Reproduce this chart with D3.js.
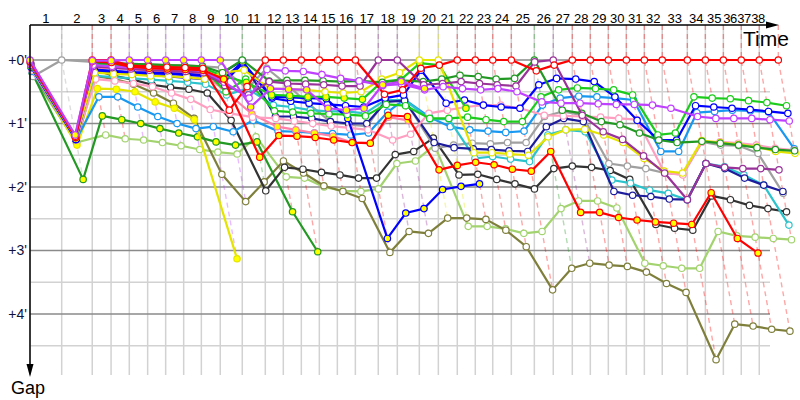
<!DOCTYPE html>
<html><head><meta charset="utf-8">
<script src="https://cdn.jsdelivr.net/npm/d3@7"></script>
<style>body{margin:0;background:#fff}svg{display:block}</style>
</head><body>
<svg id="chart" width="800" height="400"></svg>
<script>
// ---- DATA ----
const lapLabels = d3.range(1, 39);
// leader's elapsed time (minutes) at end of each lap, lap 0..38
const lapTimes = [0,2.78,5.46,7.11,8.71,10.32,11.90,13.48,15.03,16.69,18.62,20.64,22.22,23.80,25.38,26.96,28.54,30.55,32.22,34.15,35.82,37.48,39.06,40.59,42.22,44.24,45.90,47.57,49.15,50.73,52.31,53.89,55.46,57.66,59.24,60.82,62.39,63.97,65.64];
const gapMajorTicks = [0,1,2,3,4];
const gapMinorTicks = [0.5,1.5,2.5,3.5,4.5];
const tickLabels = ["+0'","+1'","+2'","+3'","+4'"];

// gaps to leader (minutes) per lap, lap 0..
const gapRedW = [0.02,1.2,0,0,0.09,0.1,0.11,0.12,0.13,0.79,0.42,0,0,0,0,0,0,0.54,0.47,0.13,0.08,0,0,0,0,0.17,0.08,0,0,0,0,0,0,0,0,0,0,0,0];
const gapRedY = [0.03,1.22,0.02,0.04,0.11,0.13,0.14,0.15,0.16,0.3,1.53,1.19,1.2,1.22,1.26,1.3,1.31,0.87,0.89,1.73,1.66,1.61,1.65,1.72,1.75,1.44,2.4,2.4,2.48,2.52,2.55,2.57,2.59,2.09,2.81,3.04];
const gapVioletY = [0,1.18,0.01,0.01,0,0,0,0,0,0,0.74,0.45,0.46,0.47,0.76,0.79,0.76,0.39,0.34,0.45];
const gapVioletW = [0.05,1.22,0.08,0.1,0.12,0.13,0.14,0.15,0.17,0.35,0.6,0.15,0.17,0.18,0.23,0.29,0.33,0.4,0.38,0.47,0.42,0.45,0.47,0.45,0.5,0.66,0.68,0.68,0.69,0.7,0.7,0.71,0.76,0.89,0.92,0.92,0.92,0.94,0.96];
const gapPurple = [0.08,1.2,0.1,0.12,0.14,0.16,0.17,0.18,0.2,0.4,0.55,0.34,0.37,0.38,0.39,0.41,0.41,0,0,0.39,0.37,0.34,0.37,0.39,0.41,0.03,0,0.87,1.13,1.25,1.51,1.78,2.2,1.63,1.69,1.71,1.71,1.73];
const gapGreenW = [0.06,1.22,0.04,0.05,0.06,0.07,0.08,0.09,0.1,0.2,0,0.33,0.32,0.32,0.33,0.34,0.33,0.35,0.32,0.34,0.3,0.24,0.26,0.3,0.29,0,0.79,0.84,0.97,1.02,1.15,1.26,1.3,1.28,1.31,1.34,1.38,1.41,1.43];
const gapGreenY = [0.2,1.88,0.88,0.94,1.0,1.08,1.15,1.21,1.29,1.34,1.29,2.39,3.02];
const gapLimeW = [0.1,1.22,0.06,0.07,0.09,0.1,0.12,0.13,0.14,0.5,0.3,0.8,0.82,0.84,0.85,0.86,0.88,0.7,0.72,0.92,0.92,0.9,0.94,0.97,0.97,0.58,0.47,0.44,0.45,0.47,0.55,1.18,1.15,0.58,0.6,0.61,0.64,0.67,0.72];
const gapLimeY = [0.09,1.21,0.05,0.06,0.08,0.09,0.11,0.12,0.13,0.25,0.35,0.55,0.56,0.58,0.58,0.6,0.62,0.34,0.31,0.05,0.08,0.76];
const gapBlueY = [0.1,1.25,0.15,0.17,0.19,0.2,0.21,0.22,0.24,0.3,0.03,0.58,0.59,0.6,0.61,0.92,2.81,2.41,2.34,2.04,1.99,1.95];
const gapBlueW = [0.12,1.25,0.16,0.18,0.2,0.21,0.22,0.24,0.25,0.35,0.05,0.6,0.65,0.68,0.7,0.72,0.74,0.6,0.55,0.16,0.68,0.63,0.71,0.74,0.76,0.39,0.29,0.3,0.34,0.58,0.95,1.26,1.26,0.72,0.74,0.76,0.78,0.81,0.84];
const gapNavy = [0.12,1.25,0.18,0.2,0.22,0.24,0.26,0.28,0.3,0.2,0.01,0.89,0.89,0.92,0.97,1.0,1.0,0.66,0.64,1.3,1.38,1.4,1.41,1.43,1.44,1.05,0.92,0.97,2.07,2.13,2.15,2.19,2.2,1.63,1.71,1.86,1.97,2.07];
const gapCyan = [0.15,1.25,0.25,0.27,0.29,0.31,0.33,0.35,0.38,0.55,0.45,0.71,0.74,0.79,0.81,0.81,0.84,0.63,0.63,0.93,0.93,1.55,1.52,1.56,1.6,1.18,1.1,1.13,1.89,1.94,2.05,2.1,2.2,1.63,1.68,1.81,1.97,2.6];
const gapLightBlue = [0.18,1.26,0.58,0.58,0.74,0.89,1.0,1.08,1.05,1.13,0.95,1.12,1.13,1.15,1.16,1.18,1.15,0.82,0.62,0.9,1.05,1.1,1.12,1.14,1.12,0.71,0.6,0.57,0.58,0.6,0.63,1.44,1.44,0.83,0.81,0.79,0.8,0.82,1.4];
const gapPinkW = [0.16,1.26,0.3,0.33,0.37,0.42,0.52,0.62,0.78,0.84,0.9,0.92,0.96,1.0,1.04,1.07,1.1,1.26,1.17,0.84,0.79,0.74,0.71,0.71,0.76,0.87,0.88,0.89,0.9,0.92,0.94,1.78,1.81,1.29,1.29,1.31,1.34,1.39,1.42];
const gapPinkY = [0.1,1.22,0.12,0.13,0.15,0.17,0.19,0.2,0.22,0.5,0.85,1.05,1.1,1.15,1.2,1.3,1.31,0.9,0.95];
const gapGray = [0.26,0,0.03,0.05,0.06,0.07,0.08,0.08,0.1,0.12,0.45,0.13,0.4,0.7,0.97,1.02,1.04,0.63,0.63,1.39,1.34,1.31,1.32,1.3,1.3,0.89,0.81,0.87,1.63,1.67,1.71,1.78,1.8,1.29,1.34,1.35,1.47,2.1];
const gapBlack = [0.05,1.22,0.15,0.25,0.31,0.39,0.43,0.46,0.52,0.95,2.06,1.69,1.72,1.77,1.81,1.86,1.86,1.49,1.44,1.23,1.81,1.8,1.88,1.95,2.03,1.71,1.67,1.69,1.74,1.88,2.59,2.65,2.68,2.14,2.2,2.29,2.34,2.39];
const gapOlive = [0.2,1.3,0.25,0.3,0.38,0.52,0.68,0.92,1.8,2.23,1.92,1.59,1.78,1.98,2.07,2.18,3.03,2.7,2.73,2.49,2.49,2.51,2.68,2.94,3.62,3.28,3.2,3.23,3.25,3.34,3.52,3.66,4.72,4.16,4.19,4.24,4.27];
const gapLightGreen = [0.25,1.3,1.18,1.24,1.26,1.3,1.35,1.41,1.45,1.48,1.21,1.84,1.86,2.0,2.06,2.07,2.03,1.63,1.59,1.34,2.62,2.62,2.66,2.73,2.7,2.34,2.22,2.22,2.33,3.2,3.24,3.28,3.28,2.7,2.77,2.79,2.81,2.83];
const gapYellowY = [0.15,1.34,0.45,0.46,0.5,0.66,0.76,0.94,3.13];
const gapYellowW = [0.08,1.23,0.2,0.22,0.23,0.25,0.26,0.27,0.3,0.2,0.16,0.45,0.46,0.47,0.5,0.52,0.5,0.3,0.2,0,0,1.46,1.46,1.48,1.5,1.21,1.1,1.09,1.18,1.3,1.55,1.75,1.78,1.27,1.3,1.33,1.37,1.44,1.47];

// ---- STYLES (drawn back to front) ----
const FY = "#ffff00", FW = "#ffffff";
const seriesList = [
  {gaps: gapLightGreen, color: "#a3d36f", fill: FW},
  {gaps: gapOlive, color: "#7f7f3c", fill: FW},
  {gaps: gapGreenY, color: "#229922", fill: FY},
  {gaps: gapYellowY, color: "#e4e400", fill: FY},
  {gaps: gapBlack, color: "#333333", fill: FW},
  {gaps: gapGray, color: "#a0a0a0", fill: FW},
  {gaps: gapLightBlue, color: "#1898f0", fill: FW},
  {gaps: gapCyan, color: "#2cc4cc", fill: FW},
  {gaps: gapNavy, color: "#1c1c9c", fill: FW},
  {gaps: gapPinkY, color: "#ff80a8", fill: FY},
  {gaps: gapPinkW, color: "#ff9ec0", fill: FW},
  {gaps: gapBlueW, color: "#0000ff", fill: FW},
  {gaps: gapBlueY, color: "#0000ff", fill: FY},
  {gaps: gapLimeW, color: "#1ccc1c", fill: FW},
  {gaps: gapLimeY, color: "#1ccc1c", fill: FY},
  {gaps: gapYellowW, color: "#e4e400", fill: FW},
  {gaps: gapGreenW, color: "#229922", fill: FW},
  {gaps: gapPurple, color: "#993399", fill: FW},
  {gaps: gapVioletW, color: "#bf40ff", fill: FW},
  {gaps: gapRedY, color: "#ff0000", fill: FY},
  {gaps: gapRedW, color: "#ff0000", fill: FW},
  {gaps: gapVioletY, color: "#bf40ff", fill: FY}
];

// ---- SCALES ----
const x = d3.scaleLinear().domain([0, 65.35]).range([30, 775]);
const y = d3.scaleLinear().domain([0, 1]).range([60, 123.5]);
const yTop = 25, yBottom = 375, gridRight = 770;

const svg = d3.select("#chart");
const font = "'Liberation Sans', Arial, sans-serif";

// grid
const grid = svg.append("g");
grid.selectAll("line.v").data(lapTimes.slice(0, 38)).join("line")
  .attr("x1", d => x(d)).attr("x2", d => x(d)).attr("y1", yTop).attr("y2", yBottom)
  .attr("stroke", "#d2d2d2").attr("stroke-width", 1.5);
grid.append("g").selectAll("line").data(gapMinorTicks).join("line")
  .attr("x1", 30).attr("x2", gridRight).attr("y1", d => y(d)).attr("y2", d => y(d))
  .attr("stroke", "#d2d2d2").attr("stroke-width", 1.5);
grid.append("g").selectAll("line").data(gapMajorTicks).join("line")
  .attr("x1", 30).attr("x2", gridRight).attr("y1", d => y(d)).attr("y2", d => y(d))
  .attr("stroke", "#8a8a8a").attr("stroke-width", 1.5);

// lap lines (dashed, coloured by lap leader)
const lapLineData = d3.range(1, lapTimes.length).map(k => {
  const on = seriesList.filter(s => s.gaps[k] != null);
  const leader = d3.least(on, s => s.gaps[k]);
  return {k, color: leader.color, maxGap: d3.max(on, s => s.gaps[k])};
});
svg.append("g").selectAll("path").data(lapLineData).join("path")
  .attr("d", d => `M${x(lapTimes[d.k])},${yTop}L${x(lapTimes[d.k])},${y(0)}L${x(lapTimes[d.k] + d.maxGap)},${y(d.maxGap)}`)
  .attr("fill", "none").attr("stroke", d => d.color).attr("stroke-opacity", 0.35)
  .attr("stroke-width", 1.4).attr("stroke-dasharray", "5,4");

// series
const line = d3.line().x(d => x(lapTimes[d.lap] + d.gap)).y(d => y(d.gap));
seriesList.forEach(s => {
  const pts = s.gaps.map((g, i) => ({lap: i, gap: g})).filter(d => d.gap != null);
  const g = svg.append("g");
  g.append("path").attr("d", line(pts)).attr("fill", "none")
    .attr("stroke", s.color).attr("stroke-width", 2.2).attr("stroke-linejoin", "round");
  g.selectAll("circle").data(pts).join("circle")
    .attr("cx", d => x(lapTimes[d.lap] + d.gap)).attr("cy", d => y(d.gap)).attr("r", 3.2)
    .attr("fill", s.fill).attr("stroke", s.color).attr("stroke-width", 1.2);
});

// axes
svg.append("line").attr("x1", 30).attr("x2", 767).attr("y1", yTop).attr("y2", yTop).attr("stroke", "#000").attr("stroke-width", 1.5);
svg.append("path").attr("d", `M766,${yTop-3.5}L779,${yTop}L766,${yTop+3.5}Z`).attr("fill", "#000");
svg.append("line").attr("x1", 30).attr("x2", 30).attr("y1", yTop).attr("y2", 365).attr("stroke", "#000").attr("stroke-width", 1.5);
svg.append("path").attr("d", `M26.5,364L30,377L33.5,364Z`).attr("fill", "#000");

// lap labels (last ones squeezed against the axis end)
svg.append("g").selectAll("text").data(lapLabels).join("text")
  .attr("x", n => Math.min((x(lapTimes[n - 1]) + x(lapTimes[n])) / 2, 758 - (38 - n) * 14))
  .attr("y", 23).attr("text-anchor", "middle")
  .attr("font-family", font).attr("font-size", 13).attr("letter-spacing", n => n >= 36 ? -0.6 : 0).attr("fill", "#000")
  .text(n => n);

// gap labels
svg.append("g").selectAll("text").data(gapMajorTicks).join("text")
  .attr("x", 27).attr("y", d => y(d)).attr("dy", "0.35em").attr("text-anchor", "end")
  .attr("font-family", font).attr("font-size", 14).attr("fill", "#101040")
  .text((d, i) => tickLabels[i]);

svg.append("text").attr("x", 743).attr("y", 46).attr("font-family", font).attr("font-size", 21).text("Time");
svg.append("text").attr("x", 11).attr("y", 394).attr("font-family", font).attr("font-size", 18).text("Gap");
</script>
</body></html>
